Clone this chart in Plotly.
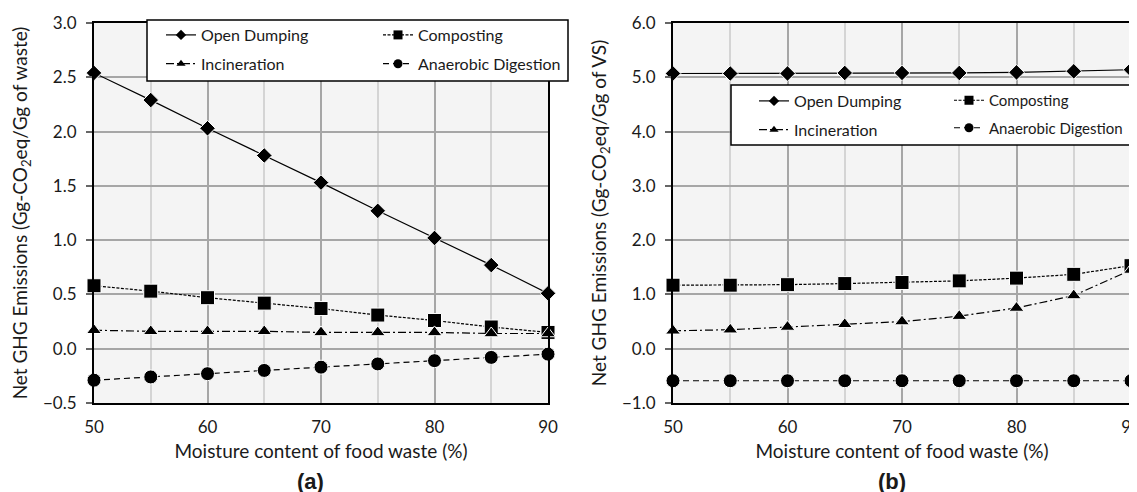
import plotly.graph_objects as go

moisture = [50, 55, 60, 65, 70, 75, 80, 85, 90]
series_names = ["Open Dumping", "Composting", "Incineration", "Anaerobic Digestion"]

# Panel (a): Gg-CO2eq / Gg of waste
a_open_dumping = [2.54, 2.29, 2.03, 1.78, 1.53, 1.27, 1.02, 0.77, 0.51]
a_composting = [0.58, 0.53, 0.47, 0.42, 0.37, 0.31, 0.26, 0.20, 0.15]
a_incineration = [0.17, 0.16, 0.16, 0.16, 0.15, 0.15, 0.15, 0.14, 0.14]
a_anaerobic = [-0.29, -0.26, -0.23, -0.20, -0.17, -0.14, -0.11, -0.08, -0.05]

# Panel (b): Gg-CO2eq / Gg of VS
b_open_dumping = [5.07, 5.07, 5.07, 5.08, 5.08, 5.08, 5.09, 5.11, 5.14]
b_composting = [1.17, 1.17, 1.18, 1.20, 1.22, 1.25, 1.30, 1.37, 1.53]
b_incineration = [0.33, 0.35, 0.40, 0.45, 0.50, 0.60, 0.75, 0.98, 1.45]
b_anaerobic = [-0.59, -0.59, -0.59, -0.59, -0.59, -0.59, -0.59, -0.59, -0.59]

FONT = "Lato"
TXT = "#1a1a1a"
styles = [
    dict(symbol="diamond", size=12, lsize=8, dash="solid"),
    dict(symbol="square", size=14, lsize=9, dash="3px,1.5px"),
    dict(symbol="triangle-up", size=13, lsize=8, dash="8px,3px,2px,3px"),
    dict(symbol="circle", size=14, lsize=9, dash="6px,4px"),
]

fig = go.Figure()

panels = [
    ("x", "y", [a_open_dumping, a_composting, a_incineration, a_anaerobic], ["legend", "legend2"]),
    ("x2", "y2", [b_open_dumping, b_composting, b_incineration, b_anaerobic], ["legend3", "legend4"]),
]
for xa, ya, data, legs in panels:
    for i, (name, vals, st) in enumerate(zip(series_names, data, styles)):
        fig.add_trace(go.Scatter(
            x=moisture, y=vals, name=name, mode="lines+markers",
            xaxis=xa, yaxis=ya, cliponaxis=False, showlegend=False,
            line=dict(color="black", width=1.2, dash=st["dash"]),
            marker=dict(symbol=st["symbol"], size=st["size"], color="black",
                        line=dict(color="white", width=1)),
        ))
    # legend entries (smaller markers, as in the reference legend)
    for i, (name, st) in enumerate(zip(series_names, styles)):
        fig.add_trace(go.Scatter(
            x=[None], y=[None], name=name, mode="lines+markers",
            xaxis=xa, yaxis=ya, showlegend=True,
            line=dict(color="black", width=1.2, dash=st["dash"]),
            marker=dict(symbol=st["symbol"], size=st["lsize"], color="black"),
            legend=legs[i % 2], legendgroup=f"{xa}{i}",
        ))

W, H = 1137, 492
def px(v):
    return v / W
def py(v):
    return 1 - v / H

axis_common = dict(
    showline=True, linecolor="black", linewidth=2, mirror=True,
    showgrid=True, gridcolor="#a6a6a6", gridwidth=2, zeroline=False, automargin=False,
    tickfont=dict(family=FONT, size=17, color=TXT),
)
xaxis_common = dict(axis_common, range=[50, 90], dtick=10, tick0=50, ticks="",
                    ticklabelstandoff=8,
                    minor=dict(dtick=5, showgrid=True, gridcolor="#d4d4d4", gridwidth=2),
                    title=dict(text="Moisture content of food waste (%)",
                               font=dict(family=FONT, size=19, color=TXT), standoff=8))
yaxis_common = dict(axis_common, ticks="outside", ticklen=6, tickcolor="#666", tickwidth=1.5,
                    tickformat=".1f", ticklabelstandoff=6)

fig.update_layout(
    template="none",
    width=W, height=H, margin=dict(l=0, r=0, t=0, b=0),
    paper_bgcolor="white", plot_bgcolor="#f4f4f4",
    xaxis=dict(xaxis_common, domain=[px(86), px(540)], anchor="y"),
    yaxis=dict(yaxis_common, domain=[py(395), py(15)], range=[-0.5, 3.0], dtick=0.5, anchor="x",
               title=dict(text="Net GHG Emissions (Gg-CO<sub>2</sub>eq/Gg of waste)",
                          font=dict(family=FONT, size=19, color=TXT), standoff=10)),
    xaxis2=dict(xaxis_common, domain=[px(665), px(1123)], anchor="y2"),
    yaxis2=dict(yaxis_common, domain=[py(395), py(15)], range=[-1.0, 6.0], dtick=1, anchor="x2",
                title=dict(text="Net GHG Emissions (Gg-CO<sub>2</sub>eq/Gg of VS)",
                           font=dict(family=FONT, size=19, color=TXT), standoff=10)),
    showlegend=True,
)

leg_common = dict(bgcolor="rgba(0,0,0,0)", borderwidth=0, traceorder="grouped",
                  tracegroupgap=5, xanchor="left", yanchor="top",
                  font=dict(family=FONT, size=16, color=TXT), itemwidth=30)
fig.update_layout(
    legend=dict(leg_common, x=px(153), y=py(10)),
    legend2=dict(leg_common, x=px(370), y=py(10)),
    legend3=dict(leg_common, x=px(746), y=py(76)),
    legend4=dict(leg_common, x=px(1120), xanchor="right", y=py(76),
                 font=dict(family=FONT, size=15, color=TXT)),
)

# legend frames
fig.add_shape(type="rect", xref="paper", yref="paper",
              x0=px(139), x1=px(560), y0=py(73), y1=py(12),
              line=dict(color="black", width=1.5), fillcolor="white", layer="above")
fig.add_shape(type="rect", xref="paper", yref="paper",
              x0=px(723), x1=px(1136), y0=py(137), y1=py(77),
              line=dict(color="black", width=1.5), fillcolor="white", layer="above")

fig.add_annotation(text="<b>(a)</b>", x=px(302), y=py(473), xref="paper", yref="paper",
                   xanchor="center", yanchor="middle", showarrow=False,
                   font=dict(family="Liberation Sans", size=22, color=TXT))
fig.add_annotation(text="<b>(b)</b>", x=px(884), y=py(473), xref="paper", yref="paper",
                   xanchor="center", yanchor="middle", showarrow=False,
                   font=dict(family="Liberation Sans", size=22, color=TXT))

fig.write_html("out.html")
